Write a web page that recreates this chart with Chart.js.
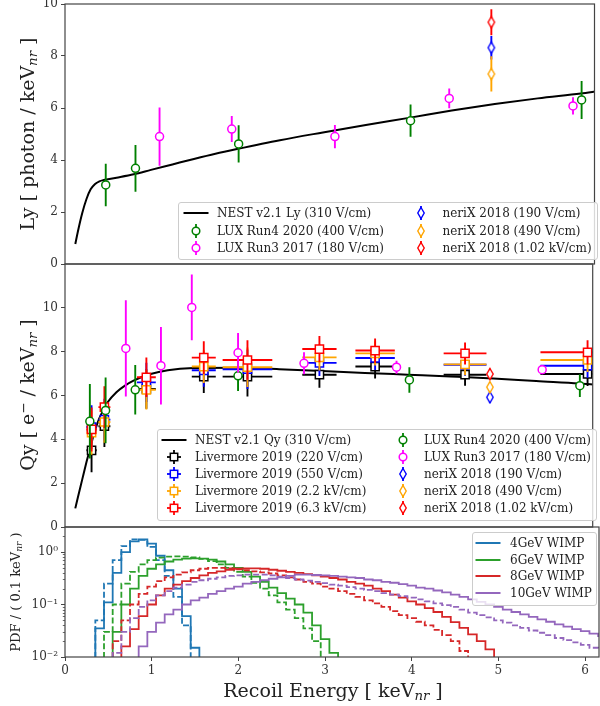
<!DOCTYPE html>
<html><head><meta charset="utf-8">
<script src="https://cdn.jsdelivr.net/npm/chart.js@4.4.0/dist/chart.umd.min.js"></script>
<style>
body{margin:0;background:#fff;}
#wrap{position:relative;width:600px;height:706px;overflow:hidden;background:#fff;font-family:"DejaVu Serif",serif;color:#222}
canvas{position:absolute;left:0}
.ttl{position:absolute;white-space:nowrap;transform:translate(-50%,-50%) rotate(-90deg);line-height:1}
.xt{position:absolute;white-space:nowrap;transform:translate(-50%,-50%);line-height:1}
.leg{position:absolute;background:rgba(255,255,255,0.8);border:1px solid #ccc;border-radius:3px;box-sizing:border-box}
.li{position:absolute;font-size:12px;line-height:14px;white-space:nowrap;transform:translateY(-50%);color:#222}
.ic{position:absolute;transform:translate(-50%,-50%);line-height:0}
sub{font-size:70%;vertical-align:-0.3em;line-height:0}
sup{font-size:70%;vertical-align:0.45em;line-height:0}
</style></head>
<body>
<div id="wrap">
<canvas id="c1" width="600" height="285" style="top:-10px"></canvas>
<canvas id="c2" width="600" height="290" style="top:250px"></canvas>
<canvas id="c3" width="600" height="191" style="top:515px"></canvas>
</div>
<script>
// ---------------- data ----------------
const xTickValues = [0, 1, 2, 3, 4, 5, 6];
const xTickLabels = ['0', '1', '2', '3', '4', '5', '6'];
const lyTickValues = [0, 2, 4, 6, 8, 10];
const lyTickLabels = ['0', '2', '4', '6', '8', '10'];
const qyTickValues = [0, 2, 4, 6, 8, 10];
const qyTickLabels = ['0', '2', '4', '6', '8', '10'];
const pdfTickValues = [0.01, 0.1, 1];
const pdfTickLabels = ['10\u207B\u00B2', '10\u207B\u00B9', '10\u2070'];

// NEST v2.1 curves (310 V/cm)
const nestLyE = [0.12,0.15,0.2,0.25,0.3,0.35,0.4,0.45,0.5,0.6,0.8,1.0,1.25,1.5,1.75,2.0,2.5,3.0,3.5,4.0,4.5,5.0,5.5,6.0,6.2];
const nestLy  = [0.77,1.25,1.95,2.5,2.88,3.08,3.18,3.23,3.26,3.32,3.45,3.62,3.83,4.04,4.24,4.42,4.76,5.06,5.35,5.62,5.9,6.15,6.37,6.56,6.65];
const nestQyE = [0.12,0.15,0.2,0.25,0.3,0.35,0.4,0.5,0.6,0.7,0.8,1.0,1.2,1.5,2.0,2.5,3.0,3.5,4.0,4.5,5.0,5.5,6.0,6.2];
const nestQy  = [0.85,1.35,2.15,2.95,3.7,4.4,4.95,5.7,6.15,6.45,6.68,6.98,7.15,7.25,7.27,7.2,7.12,7.03,6.95,6.87,6.78,6.66,6.55,6.49];

// LUX Run4 2020 (400 V/cm)
const luxRun4LyE   = [0.474, 0.82, 2.02, 4.02, 6.01];
const luxRun4Ly    = [3.04, 3.68, 4.62, 5.51, 6.31];
const luxRun4LyErr = [0.82, 0.9, 0.72, 0.62, 0.73];
const luxRun4QyE   = [0.29, 0.474, 0.82, 2.02, 4.02, 6.01];
const luxRun4Qy    = [4.82, 5.32, 6.26, 6.9, 6.71, 6.45];
const luxRun4QyErr = [1.7, 1.5, 1.13, 0.7, 0.58, 0.52];

// LUX Run3 2017 (180 V/cm)
const luxRun3LyE   = [1.10, 1.94, 3.14, 4.47, 5.91];
const luxRun3Ly    = [4.9, 5.19, 4.9, 6.37, 6.08];
const luxRun3LyErr = [1.12, 0.5, 0.45, 0.38, 0.33];
const luxRun3QyE   = [0.71, 1.12, 1.48, 2.02, 2.79, 3.87, 5.57];
const luxRun3Qy    = [8.15, 7.36, 10.02, 7.95, 7.47, 7.29, 7.18];
const luxRun3QyErr = [2.2, 1.77, 1.5, 0.9, 0.5, 0.3, 0.2];

// neriX 2018
const nerixE = [4.96];
const nerix190Ly = [8.32],  nerix190LyErr = [0.45];
const nerix490Ly = [7.31],  nerix490LyErr = [0.68];
const nerix1020Ly = [9.3],  nerix1020LyErr = [0.5];
const nerix190Qy = [5.92],  nerix190QyErr = [0.25];
const nerix490Qy = [6.38],  nerix490QyErr = [0.25];
const nerix1020Qy = [6.98], nerix1020QyErr = [0.25];

// Livermore 2019
const livE    = [0.31, 0.46, 0.95, 1.62, 2.13, 2.97, 3.62, 4.67, 6.10];
const livEErr = [0.06, 0.07, 0.11, 0.14, 0.29, 0.2, 0.23, 0.25, 0.55];
const liv220Qy  = [3.5, 4.6, 6.3, 6.86, 6.86, 6.95, 7.32, 6.95, 6.98];
const liv550Qy  = [4.56, 4.9, 6.6, 7.15, 7.2, 7.49, 7.71, 7.4, 7.36];
const liv2200Qy = [4.3, 4.79, 6.26, 7.32, 7.29, 7.74, 7.92, 7.42, 7.62];
const liv6300Qy = [4.45, 5.47, 6.83, 7.73, 7.62, 8.12, 8.05, 7.92, 7.97];
const livQyErr  = [1.0, 0.95, 0.9, 0.75, 0.9, 0.6, 0.55, 0.5, 0.55];

// WIMP recoil spectra, 0.1 keV bins (first bin centre + values); solid and dashed
const wimp4SolidStart = 0.4;
const wimp4Solid  = [0.035,0.11,0.4,1.0,1.6,1.75,1.45,0.85,0.45,0.2,0.06,0.015];
const wimp4DashedStart = 0.4;
const wimp4Dashed = [0.05,0.25,0.7,1.3,1.75,1.7,1.25,0.7,0.35,0.14,0.04,0.008];
const wimp6SolidStart = 0.6;
const wimp6Solid  = [0.03,0.1,0.2,0.35,0.48,0.58,0.66,0.72,0.75,0.76,0.75,0.72,0.66,0.58,0.5,0.42,0.34,0.27,0.21,0.165,0.13,0.1,0.07,0.04,0.022,0.012];
const wimp6DashedStart = 0.5;
const wimp6Dashed = [0.03,0.1,0.25,0.42,0.58,0.7,0.78,0.82,0.83,0.82,0.79,0.74,0.67,0.58,0.5,0.42,0.34,0.26,0.2,0.15,0.11,0.08,0.055,0.035,0.02,0.009];
const wimp8SolidStart = 0.7;
const wimp8Solid  = [0.016,0.034,0.06,0.1,0.15,0.2,0.24,0.28,0.32,0.36,0.4,0.43,0.46,0.48,0.49,0.49,0.48,0.46,0.44,0.42,0.4,0.38,0.36,0.34,0.32,0.3,0.27,0.25,0.23,0.2,0.18,0.155,0.135,0.115,0.1,0.085,0.072,0.058,0.046,0.036,0.027,0.02,0.014,0.008];
const wimp8DashedStart = 0.6;
const wimp8Dashed = [0.02,0.05,0.1,0.16,0.22,0.28,0.33,0.37,0.41,0.45,0.48,0.5,0.5,0.49,0.47,0.45,0.43,0.41,0.39,0.36,0.33,0.3,0.27,0.25,0.22,0.2,0.18,0.16,0.14,0.12,0.105,0.09,0.075,0.063,0.055,0.047,0.04,0.033,0.026,0.02,0.013,0.007];
const wimp10SolidStart = 0.9;
const wimp10Solid = [0.016,0.03,0.045,0.065,0.08,0.1,0.12,0.135,0.16,0.18,0.2,0.22,0.25,0.27,0.29,0.31,0.33,0.35,0.37,0.37,0.365,0.36,0.35,0.34,0.33,0.32,0.3,0.29,0.27,0.26,0.245,0.23,0.21,0.2,0.185,0.17,0.155,0.14,0.125,0.112,0.1,0.09,0.08,0.072,0.065,0.058,0.052,0.047,0.042,0.038,0.034,0.031,0.028,0.025];
const wimp10DashedStart = 0.6;
const wimp10Dashed = [0.012,0.03,0.055,0.09,0.12,0.15,0.18,0.21,0.24,0.27,0.29,0.31,0.33,0.35,0.36,0.37,0.37,0.37,0.36,0.34,0.32,0.3,0.285,0.27,0.255,0.24,0.23,0.215,0.2,0.19,0.18,0.165,0.155,0.145,0.135,0.125,0.115,0.105,0.097,0.09,0.08,0.07,0.063,0.057,0.05,0.045,0.04,0.036,0.032,0.029,0.026,0.023,0.021,0.019,0.017,0.015,0.014];
const binWidth = 0.1;

// ---------------- helpers ----------------
const X_MAX = 6.16;
const C = {green:'#008000', magenta:'#ff00ff', blue:'#0000ff', orange:'#ffa500', red:'#ff0000', black:'#000000',
           t1:'#1f77b4', t2:'#2ca02c', t3:'#d62728', t4:'#9467bd'};
const zip = (xs, ys) => xs.map((x, i) => ({x, y: ys[i]}));
function histPoints(start, vals){
  const FLOOR = 1e-3, e0 = start - binWidth/2;
  const pts = [{x: e0, y: FLOOR}];
  vals.forEach((v, i) => pts.push({x: +(e0 + i*binWidth).toFixed(3), y: v}));
  pts.push({x: +(e0 + vals.length*binWidth).toFixed(3), y: FLOOR});
  return pts;
}
function thinDiamond(color){
  const c = document.createElement('canvas'); c.width = 10; c.height = 14;
  const g = c.getContext('2d');
  g.beginPath(); g.moveTo(5,1.5); g.lineTo(8.2,7); g.lineTo(5,12.5); g.lineTo(1.8,7); g.closePath();
  g.fillStyle = '#fff'; g.fill(); g.strokeStyle = color; g.lineWidth = 1.4; g.stroke();
  return c;
}
function pointSet(label, xs, ys, color, shape, yErr, xErr){
  const style = shape === 'o' ? 'circle' : shape === 's' ? 'rect' : thinDiamond(color);
  return {label, data: zip(xs, ys), showLine:false, borderColor:color, backgroundColor:'#fff',
    pointStyle: style, pointRadius: shape === 's' ? 5.8 : 4, pointBorderWidth: 1.5,
    pointBackgroundColor:'#fff', pointBorderColor:color, yErr, xErr};
}
function curveSet(label, xs, ys){
  return {label, data: zip(xs, ys), borderColor:'#000', borderWidth:2, pointRadius:0,
    cubicInterpolationMode:'monotone', fill:false};
}
function histSet(label, start, vals, color, dashed){
  return {label, data: histPoints(start, vals), borderColor:color, borderWidth:1.8, pointRadius:0,
    stepped:true, borderDash: dashed ? [6, 2.6] : [], fill:false};
}

const errorBarPlugin = {
  id:'errbars',
  beforeDatasetDraw(chart, args){
    const ds = chart.data.datasets[args.index];
    if (!ds.yErr && !ds.xErr) return;
    const xs = chart.scales.x, ys = chart.scales.y, ctx = chart.ctx, a = chart.chartArea;
    ctx.save();
    ctx.beginPath(); ctx.rect(a.left, a.top, a.right - a.left, a.bottom - a.top); ctx.clip();
    ctx.strokeStyle = ds.borderColor; ctx.lineWidth = 1.9; ctx.beginPath();
    ds.data.forEach((p, i) => {
      const px = xs.getPixelForValue(p.x), py = ys.getPixelForValue(p.y);
      if (ds.yErr){ ctx.moveTo(px, ys.getPixelForValue(p.y - ds.yErr[i])); ctx.lineTo(px, ys.getPixelForValue(p.y + ds.yErr[i])); }
      if (ds.xErr){ ctx.moveTo(xs.getPixelForValue(p.x - ds.xErr[i]), py); ctx.lineTo(xs.getPixelForValue(p.x + ds.xErr[i]), py); }
    });
    ctx.stroke(); ctx.restore();
  }
};
const framePlugin = {
  id:'frame',
  afterDraw(chart){
    const ctx = chart.ctx, a = chart.chartArea;
    ctx.save(); ctx.strokeStyle = '#444'; ctx.lineWidth = 1.2;
    ctx.strokeRect(a.left, a.top, a.right - a.left, a.bottom - a.top);
    const ys = chart.scales.y;
    if (ys.type === 'logarithmic'){
      ctx.lineWidth = 0.8; ctx.beginPath();
      for (let k = -2; k <= 0; k++) for (let m = 2; m <= 9; m++){
        const v = m * Math.pow(10, k); if (v > ys.max) continue;
        const y = Math.round(ys.getPixelForValue(v)) + 0.5;
        ctx.moveTo(a.left - 2.2, y); ctx.lineTo(a.left, y);
      }
      ctx.stroke();
    }
    ctx.restore();
  }
};

Chart.defaults.font.family = '"DejaVu Serif", serif';
Chart.defaults.font.size = 12;
Chart.defaults.color = '#333';

function xScale(show){
  return {type:'linear', min:0, max:X_MAX, display: show,
    afterBuildTicks: s => { s.ticks = xTickValues.map(v => ({value:v})); },
    afterFit: s => { if (show) s.height = 49; },
    ticks:{callback:(v, i) => xTickLabels[i], padding:3, maxRotation:0, autoSkip:false, color:'#333'},
    grid:{drawOnChartArea:false, tickLength:4, tickColor:'#444', tickWidth:1}, border:{display:false}};
}
function yScale(type, min, max, vals, labels){
  return {type, min, max,
    afterBuildTicks: s => { s.ticks = vals.map(v => ({value:v})); },
    afterFit: s => { s.width = 65; },
    ticks:{callback:(v, i) => labels[i], padding:3, autoSkip:false, color:'#333'},
    grid:{drawOnChartArea:false, tickLength:4, tickColor:'#444', tickWidth:1}, border:{display:false}};
}
function makeChart(id, datasets, scales, padding){
  datasets.forEach((d, i) => { d.order = -i; });
  return new Chart(document.getElementById(id), {
    type:'line', data:{datasets},
    options:{responsive:false, animation:false, events:[], parsing:true,
      layout:{padding},
      plugins:{legend:{display:false}, tooltip:{enabled:false}},
      scales},
    plugins:[errorBarPlugin, framePlugin]
  });
}

// ---------------- charts ----------------
makeChart('c1', [
  curveSet('NEST v2.1 Ly (310 V/cm)', nestLyE, nestLy),
  pointSet('LUX Run4 2020 (400 V/cm)', luxRun4LyE, luxRun4Ly, C.green, 'o', luxRun4LyErr),
  pointSet('LUX Run3 2017 (180 V/cm)', luxRun3LyE, luxRun3Ly, C.magenta, 'o', luxRun3LyErr),
  pointSet('neriX 2018 (190 V/cm)', nerixE, nerix190Ly, C.blue, 'd', nerix190LyErr),
  pointSet('neriX 2018 (490 V/cm)', nerixE, nerix490Ly, C.orange, 'd', nerix490LyErr),
  pointSet('neriX 2018 (1.02 kV/cm)', nerixE, nerix1020Ly, C.red, 'd', nerix1020LyErr)
], {x:xScale(false), y:yScale('linear', 0, 10, lyTickValues, lyTickLabels)}, {top:14, bottom:11, left:0, right:1});

makeChart('c2', [
  curveSet('NEST v2.1 Qy (310 V/cm)', nestQyE, nestQy),
  pointSet('Livermore 2019 (220 V/cm)', livE, liv220Qy, C.black, 's', livQyErr, livEErr),
  pointSet('Livermore 2019 (550 V/cm)', livE, liv550Qy, C.blue, 's', livQyErr, livEErr),
  pointSet('Livermore 2019 (2.2 kV/cm)', livE, liv2200Qy, C.orange, 's', livQyErr, livEErr),
  pointSet('Livermore 2019 (6.3 kV/cm)', livE, liv6300Qy, C.red, 's', livQyErr, livEErr),
  pointSet('LUX Run4 2020 (400 V/cm)', luxRun4QyE, luxRun4Qy, C.green, 'o', luxRun4QyErr),
  pointSet('LUX Run3 2017 (180 V/cm)', luxRun3QyE, luxRun3Qy, C.magenta, 'o', luxRun3QyErr),
  pointSet('neriX 2018 (190 V/cm)', nerixE, nerix190Qy, C.blue, 'd', nerix190QyErr),
  pointSet('neriX 2018 (490 V/cm)', nerixE, nerix490Qy, C.orange, 'd', nerix490QyErr),
  pointSet('neriX 2018 (1.02 kV/cm)', nerixE, nerix1020Qy, C.red, 'd', nerix1020QyErr)
], {x:xScale(false), y:yScale('linear', 0, 12, qyTickValues, qyTickLabels)}, {top:14, bottom:13, left:0, right:1});

makeChart('c3', [
  histSet('4GeV WIMP', wimp4SolidStart, wimp4Solid, C.t1, false),
  histSet('4GeV WIMP dashed', wimp4DashedStart, wimp4Dashed, C.t1, true),
  histSet('6GeV WIMP', wimp6SolidStart, wimp6Solid, C.t2, false),
  histSet('6GeV WIMP dashed', wimp6DashedStart, wimp6Dashed, C.t2, true),
  histSet('8GeV WIMP', wimp8SolidStart, wimp8Solid, C.t3, false),
  histSet('8GeV WIMP dashed', wimp8DashedStart, wimp8Dashed, C.t3, true),
  histSet('10GeV WIMP', wimp10SolidStart, wimp10Solid, C.t4, false),
  histSet('10GeV WIMP dashed', wimp10DashedStart, wimp10Dashed, C.t4, true)
], {x:xScale(true), y:yScale('logarithmic', 0.01, 3, pdfTickValues, pdfTickLabels)}, {top:12, bottom:0, left:0, right:1});

// ---------------- titles & legends (HTML text) ----------------
const wrap = document.getElementById('wrap');
function addDiv(cls, html, x, y, size){
  const d = document.createElement('div'); d.className = cls; d.innerHTML = html;
  d.style.left = x + 'px'; d.style.top = y + 'px'; if (size) d.style.fontSize = size + 'px';
  wrap.appendChild(d); return d;
}
addDiv('ttl', 'Ly [ photon / keV<sub><i>nr</i></sub> ]', 27, 134, 19);
addDiv('ttl', 'Qy [ e<sup>\u2212</sup> / keV<sub><i>nr</i></sub> ]', 27, 395, 19);
addDiv('ttl', 'PDF / ( 0.1 keV<sub><i>nr</i></sub> )', 15, 592, 13);
addDiv('xt', 'Recoil Energy [ keV<sub><i>nr</i></sub> ]', 333, 690, 19);

function svgIcon(kind, color){
  const w = 26, h = 16, cx = 13, cy = 8;
  let s = `<svg xmlns="http://www.w3.org/2000/svg" width="${w}" height="${h}">`;
  if (kind === 'line') s += `<line x1="0.5" y1="${cy}" x2="25.5" y2="${cy}" stroke="${color}" stroke-width="2"/>`;
  else {
    s += `<line x1="${cx}" y1="1" x2="${cx}" y2="15" stroke="${color}" stroke-width="1.8"/>`;
    if (kind === 's') s += `<line x1="6" y1="${cy}" x2="20" y2="${cy}" stroke="${color}" stroke-width="1.8"/><rect x="9.3" y="4.3" width="7.4" height="7.4" fill="#fff" stroke="${color}" stroke-width="1.5"/>`;
    if (kind === 'o') s += `<circle cx="${cx}" cy="${cy}" r="3.8" fill="#fff" stroke="${color}" stroke-width="1.5"/>`;
    if (kind === 'd') s += `<path d="M13 2.5 L16.2 8 L13 13.5 L9.8 8 Z" fill="#fff" stroke="${color}" stroke-width="1.4"/>`;
  }
  return s + '</svg>';
}
function addLegend(box, items){
  const d = document.createElement('div'); d.className = 'leg';
  Object.assign(d.style, {left:box[0]+'px', top:box[1]+'px', width:box[2]+'px', height:box[3]+'px'});
  wrap.appendChild(d);
  items.forEach(it => {
    addDiv('ic', svgIcon(it.kind, it.color), it.ix, it.y);
    addDiv('li', it.text, it.tx, it.y);
  });
}
addLegend([178, 202, 420, 58], [
  {kind:'line', color:'#000', text:'NEST v2.1 Ly (310 V/cm)', ix:195.5, tx:217, y:212.7},
  {kind:'o', color:C.green, text:'LUX Run4 2020 (400 V/cm)', ix:195.5, tx:217, y:230.5},
  {kind:'o', color:C.magenta, text:'LUX Run3 2017 (180 V/cm)', ix:195.5, tx:217, y:248.3},
  {kind:'d', color:C.blue, text:'neriX 2018 (190 V/cm)', ix:420.7, tx:442.5, y:212.7},
  {kind:'d', color:C.orange, text:'neriX 2018 (490 V/cm)', ix:420.7, tx:442.5, y:230.5},
  {kind:'d', color:C.red, text:'neriX 2018 (1.02 kV/cm)', ix:420.7, tx:442.5, y:248.3}
]);
addLegend([157, 429, 440, 92], [
  {kind:'line', color:'#000', text:'NEST v2.1 Qy (310 V/cm)', ix:174.3, tx:195, y:440},
  {kind:'s', color:C.black, text:'Livermore 2019 (220 V/cm)', ix:174.3, tx:195, y:457.2},
  {kind:'s', color:C.blue, text:'Livermore 2019 (550 V/cm)', ix:174.3, tx:195, y:474.2},
  {kind:'s', color:C.orange, text:'Livermore 2019 (2.2 kV/cm)', ix:174.3, tx:195, y:491.2},
  {kind:'s', color:C.red, text:'Livermore 2019 (6.3 kV/cm)', ix:174.3, tx:195, y:508.3},
  {kind:'o', color:C.green, text:'LUX Run4 2020 (400 V/cm)', ix:402.7, tx:424, y:440},
  {kind:'o', color:C.magenta, text:'LUX Run3 2017 (180 V/cm)', ix:402.7, tx:424, y:457.2},
  {kind:'d', color:C.blue, text:'neriX 2018 (190 V/cm)', ix:402.7, tx:424, y:474.2},
  {kind:'d', color:C.orange, text:'neriX 2018 (490 V/cm)', ix:402.7, tx:424, y:491.2},
  {kind:'d', color:C.red, text:'neriX 2018 (1.02 kV/cm)', ix:402.7, tx:424, y:508.3}
]);
addLegend([472, 532, 125, 74], [
  {kind:'line', color:C.t1, text:'4GeV WIMP', ix:488.2, tx:510, y:542.7},
  {kind:'line', color:C.t2, text:'6GeV WIMP', ix:488.2, tx:510, y:559.5},
  {kind:'line', color:C.t3, text:'8GeV WIMP', ix:488.2, tx:510, y:576.3},
  {kind:'line', color:C.t4, text:'10GeV WIMP', ix:488.2, tx:510, y:593.2}
]);
</script>
</body></html>
